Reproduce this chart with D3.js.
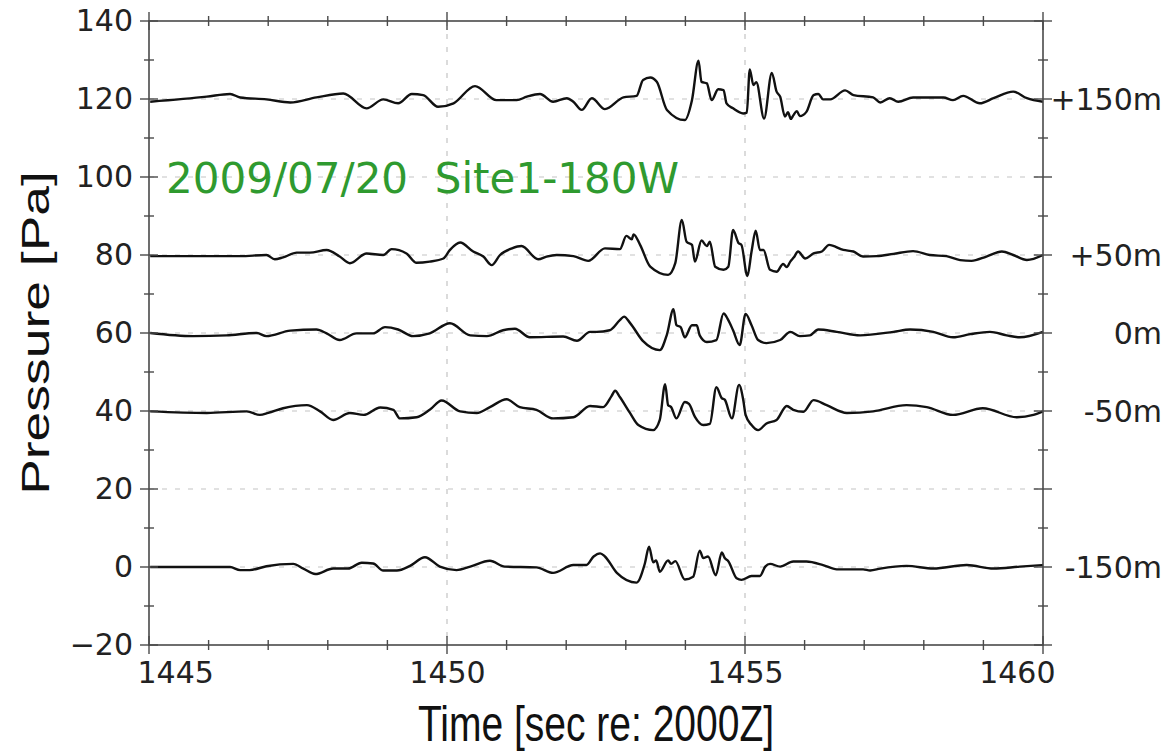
<!DOCTYPE html>
<html>
<head>
<meta charset="utf-8">
<script src="https://cdn.jsdelivr.net/npm/d3@7"></script>
<style>
  html, body { margin: 0; padding: 0; background: #fff; }
  svg { display: block; }
</style>
</head>
<body>
<svg id="chart" width="1170" height="754"></svg>
<script>
// Pressure traces at five heights, 2009/07/20 Site1-180W
const xDomain = [1445, 1460];
const yDomain = [-20, 140];
const xMajorTicks = [1445, 1450, 1455, 1460];
const yMajorTicks = [-20, 0, 20, 40, 60, 80, 100, 120, 140];
const heightLabels = ["+150m", "+50m", "0m", "-50m", "-150m"];
const labelLevels = [120, 80, 60, 40, 0];

const tP150 = [1445.02,1445.97,1446.36,1446.53,1446.97,1447.37,1447.81,1448.26,1448.65,1448.93,1449.18,1449.41,1449.60,1449.85,1450.11,1450.47,1450.83,1451.17,1451.34,1451.56,1451.78,1452.01,1452.12,1452.26,1452.43,1452.65,1452.96,1453.18,1453.29,1453.41,1453.52,1453.69,1453.99,1454.11,1454.22,1454.27,1454.36,1454.44,1454.55,1454.64,1454.69,1454.80,1454.97,1455.03,1455.08,1455.14,1455.19,1455.32,1455.45,1455.53,1455.59,1455.67,1455.72,1455.77,1455.81,1455.87,1455.92,1456.03,1456.15,1456.23,1456.31,1456.43,1456.68,1456.82,1457.15,1457.27,1457.43,1457.57,1457.82,1458.33,1458.49,1458.66,1458.94,1459.17,1459.50,1459.73,1460.0];
const pP150 = [119.3,120.6,121.3,120.4,119.9,119.1,120.4,121.4,117.6,119.9,118.9,121.3,121.0,118.0,118.9,123.3,119.7,119.7,120.6,121.3,119.3,120.2,119.3,117.2,120.2,117.4,120.4,120.8,124.9,125.5,124.4,117.2,114.6,119.7,129.8,124.4,124.0,119.7,122.5,122.3,118.9,117.6,116.3,116.5,127.6,123.6,124.3,115.0,126.7,121.9,120.6,115.5,116.6,114.9,115.8,116.9,115.6,116.7,121.0,121.3,119.9,119.9,122.2,121.0,120.4,119.1,120.2,119.3,120.4,120.4,119.7,120.8,118.9,120.2,121.9,120.2,119.3];

const tP50 = [1445.02,1446.53,1446.97,1447.11,1447.25,1447.48,1447.70,1447.98,1448.20,1448.37,1448.65,1448.93,1449.07,1449.32,1449.49,1449.71,1449.94,1450.05,1450.22,1450.44,1450.61,1450.75,1450.89,1451.09,1451.25,1451.53,1451.67,1451.84,1452.12,1452.37,1452.65,1452.90,1453.01,1453.10,1453.13,1453.24,1453.41,1453.71,1453.83,1453.94,1454.02,1454.11,1454.16,1454.27,1454.36,1454.41,1454.50,1454.64,1454.72,1454.80,1454.89,1454.94,1455.04,1455.11,1455.18,1455.25,1455.31,1455.42,1455.53,1455.64,1455.70,1455.76,1455.82,1455.89,1456.01,1456.15,1456.29,1456.41,1456.65,1456.82,1456.98,1457.21,1457.49,1457.82,1458.10,1458.38,1458.61,1458.80,1459.05,1459.31,1459.50,1459.73,1460.0];
const pP50 = [79.7,79.7,80.0,78.9,79.4,80.6,80.6,81.3,79.6,77.9,80.4,80.0,81.5,80.4,78.0,78.3,79.1,81.3,83.2,80.9,79.6,77.4,80.0,81.7,82.3,78.9,79.6,80.0,79.7,78.5,81.7,81.5,84.9,84.0,85.3,82.6,77.0,74.9,77.9,89.0,83.4,82.6,78.3,83.7,82.3,83.4,77.0,76.2,77.0,86.4,83.1,82.6,74.6,80.9,86.2,81.3,81.3,76.2,75.7,77.7,76.9,78.3,79.4,80.9,79.1,80.4,80.9,82.6,81.3,80.9,79.6,79.7,80.3,81.0,80.0,79.7,78.7,78.5,79.6,80.9,80.0,78.7,80.0];

const tP0 = [1445.02,1445.74,1446.30,1446.81,1446.97,1447.37,1447.81,1447.98,1448.20,1448.48,1448.76,1448.96,1449.18,1449.43,1449.71,1450.05,1450.39,1450.67,1450.94,1451.14,1451.39,1451.95,1452.18,1452.40,1452.51,1452.73,1452.90,1452.97,1453.07,1453.29,1453.57,1453.69,1453.80,1453.85,1453.92,1453.99,1454.11,1454.19,1454.24,1454.36,1454.52,1454.64,1454.72,1454.80,1454.91,1455.01,1455.11,1455.22,1455.36,1455.59,1455.76,1455.92,1456.09,1456.23,1456.54,1456.93,1457.49,1457.77,1458.16,1458.49,1458.78,1459.11,1459.39,1459.61,1460.0];
const pP0 = [60.0,59.2,59.4,60.0,59.2,60.6,60.9,59.9,58.2,59.9,59.9,61.5,60.9,59.2,59.9,62.5,59.4,59.2,60.7,61.1,58.9,59.1,58.0,60.3,60.3,60.7,63.3,64.2,62.6,57.9,55.6,59.6,66.1,62.0,61.5,58.9,62.0,62.0,59.4,57.7,58.2,65.0,63.3,60.7,56.9,64.9,62.0,58.2,57.4,58.2,60.3,59.2,59.4,60.9,60.3,59.4,60.3,60.9,60.3,58.9,59.7,60.3,59.4,58.9,60.3];

const tM50 = [1445.02,1445.97,1446.64,1446.86,1447.00,1447.25,1447.65,1447.87,1448.09,1448.37,1448.60,1448.88,1449.10,1449.21,1449.49,1449.71,1449.91,1450.22,1450.50,1450.72,1451.00,1451.22,1451.50,1451.78,1452.12,1452.40,1452.62,1452.76,1452.82,1452.90,1453.07,1453.21,1453.46,1453.57,1453.66,1453.71,1453.76,1453.85,1453.99,1454.06,1454.16,1454.30,1454.41,1454.52,1454.61,1454.66,1454.78,1454.90,1454.97,1455.01,1455.11,1455.22,1455.36,1455.53,1455.70,1455.81,1455.98,1456.15,1456.37,1456.71,1457.15,1457.71,1458.05,1458.49,1458.99,1459.56,1459.84,1460.0];
const pM50 = [39.9,39.5,39.9,39.0,39.5,40.7,41.5,39.9,37.7,39.5,39.0,40.9,40.3,38.1,38.4,40.3,42.7,39.9,39.5,41.0,43.0,41.0,40.3,38.1,38.4,41.3,41.0,43.8,45.2,43.6,39.5,36.4,35.1,37.7,46.9,41.5,41.0,38.1,42.3,41.8,38.5,36.4,36.7,46.1,43.3,42.9,38.1,46.7,42.9,39.0,36.4,35.1,36.8,37.7,41.3,40.3,39.8,42.8,41.5,39.5,39.9,41.5,41.0,39.0,40.7,38.4,39.0,39.9];

const tM150 = [1445.02,1446.36,1446.53,1446.69,1446.97,1447.42,1447.59,1447.79,1448.09,1448.34,1448.57,1448.76,1448.93,1449.16,1449.38,1449.63,1449.88,1450.16,1450.39,1450.72,1450.97,1451.50,1451.78,1452.12,1452.34,1452.46,1452.57,1452.65,1452.85,1453.18,1453.32,1453.39,1453.46,1453.51,1453.57,1453.71,1453.76,1453.83,1453.99,1454.13,1454.24,1454.30,1454.38,1454.51,1454.61,1454.66,1454.72,1454.86,1454.94,1455.11,1455.25,1455.34,1455.42,1455.59,1455.81,1456.03,1456.31,1456.54,1456.98,1457.10,1457.27,1457.71,1458.16,1458.72,1459.17,1459.61,1460.0];
const pM150 = [0.0,0.0,-0.8,-0.8,0.2,0.8,-0.4,-1.8,-0.4,-0.4,1.1,0.9,-0.9,-0.9,0.3,2.5,0.1,-0.8,0.1,1.6,0.1,-0.1,-1.5,0.5,0.5,2.7,3.5,2.7,-1.5,-4.0,0.9,5.2,1.2,1.7,-1.2,1.7,0.8,1.5,-3.2,-2.5,4.2,2.3,2.7,-2.1,3.7,2.3,1.5,-2.9,-3.3,-2.3,-2.3,0.1,0.8,0.1,1.4,1.4,0.5,-0.6,-0.6,-0.9,-0.4,0.3,-0.4,0.5,-0.4,0.1,0.5];

const traces = [
  [tP150, pP150], [tP50, pP50], [tP0, pP0], [tM50, pM50], [tM150, pM150]
];

const svg = d3.select("#chart");
const W = 1170, H = 754;
const margin = { left: 149, right: W - 1043, top: 21, bottom: H - 645 };

const x = d3.scaleLinear().domain(xDomain).range([margin.left, W - margin.right]);
const y = d3.scaleLinear().domain(yDomain).range([H - margin.bottom, margin.top]);

const frameColor = "#4a4a4a";
const tickFont = "'DejaVu Sans', Verdana, sans-serif";
const titleFont = "'Liberation Sans', Arial, sans-serif";
const titleStretch = 1.28;

// dashed grid at the major ticks
const grid = svg.append("g").attr("stroke", "#c4c4c4").attr("stroke-width", 1.2)
  .attr("stroke-dasharray", "5,8");
grid.append("g").selectAll("line").data(xMajorTicks.slice(1, -1)).join("line")
  .attr("x1", d => x(d)).attr("x2", d => x(d))
  .attr("y1", y(yDomain[1])).attr("y2", y(yDomain[0]));
grid.append("g").selectAll("line").data(yMajorTicks.slice(1, -1)).join("line")
  .attr("y1", d => y(d)).attr("y2", d => y(d))
  .attr("x1", x(xDomain[0])).attr("x2", x(xDomain[1]));

// traces
const line = d3.line().curve(d3.curveMonotoneX).x(d => x(d[0])).y(d => y(d[1]));
svg.append("g").selectAll("path").data(traces).join("path")
  .attr("d", ([ts, ps]) => line(ts.map((t, i) => [t, ps[i]])))
  .attr("fill", "none").attr("stroke", "#111").attr("stroke-width", 2.4)
  .attr("stroke-linejoin", "round");

// frame
svg.append("rect")
  .attr("x", x(xDomain[0])).attr("y", y(yDomain[1]))
  .attr("width", x(xDomain[1]) - x(xDomain[0]))
  .attr("height", y(yDomain[0]) - y(yDomain[1]))
  .attr("fill", "none").attr("stroke", frameColor).attr("stroke-width", 1.6);

// tick marks crossing the frame on all four sides
const xMinor = d3.range(1445, 1460.5, 1);
const yMinor = d3.range(-20, 140.5, 10);
const tickG = svg.append("g").attr("stroke", frameColor).attr("stroke-width", 1.4);
[y(yDomain[0]), y(yDomain[1])].forEach(py => {
  tickG.append("g").selectAll("line").data(xMinor).join("line")
    .attr("x1", d => x(d)).attr("x2", d => x(d))
    .attr("y1", d => py - (d % 5 === 0 ? 9 : 5))
    .attr("y2", d => py + (d % 5 === 0 ? 9 : 5));
});
[x(xDomain[0]), x(xDomain[1])].forEach(px => {
  tickG.append("g").selectAll("line").data(yMinor).join("line")
    .attr("y1", d => y(d)).attr("y2", d => y(d))
    .attr("x1", d => px - (d % 20 === 0 ? 9 : 5))
    .attr("x2", d => px + (d % 20 === 0 ? 9 : 5));
});

// tick labels through d3 axes
const yAxis = d3.axisLeft(y).tickValues(yMajorTicks).tickSize(0).tickPadding(16)
  .tickFormat(d => d < 0 ? "\u2212" + Math.abs(d) : String(d));
const gy = svg.append("g").attr("transform", `translate(${x(xDomain[0])},0)`).call(yAxis);
gy.select(".domain").remove();
gy.selectAll("text").attr("font-family", tickFont).attr("font-size", 30).attr("fill", "#222");

const xAxis = d3.axisBottom(x).tickValues(xMajorTicks).tickSize(0).tickPadding(17)
  .tickFormat(d3.format("d"));
const gx = svg.append("g").attr("transform", `translate(0,${y(yDomain[0])})`).call(xAxis);
gx.select(".domain").remove();
gx.selectAll("text").attr("font-family", tickFont).attr("font-size", 30).attr("fill", "#222")
  .attr("text-anchor", (d, i) => i === 0 ? "start" : (i === xMajorTicks.length - 1 ? "end" : "middle"))
  .attr("dx", (d, i) => i === 0 ? -12 : (i === xMajorTicks.length - 1 ? 12 : 0));

// height labels on the right
svg.append("g").selectAll("text").data(heightLabels).join("text")
  .attr("x", 1162)
  .attr("y", (d, i) => y(labelLevels[i]))
  .attr("dy", "0.35em")
  .attr("text-anchor", "end")
  .attr("font-family", tickFont).attr("font-size", 30).attr("fill", "#222")
  .text(d => d);

// axis titles
svg.append("text")
  .attr("transform", `translate(${(x(xDomain[0]) + x(xDomain[1])) / 2},741) scale(1,${titleStretch})`)
  .attr("text-anchor", "middle")
  .attr("font-family", titleFont).attr("font-size", 39).attr("fill", "#111")
  .text("Time [sec re: 2000Z]");

svg.append("text")
  .attr("transform", `translate(49,${(y(yDomain[0]) + y(yDomain[1])) / 2}) rotate(-90) scale(1.37,1)`)
  .attr("text-anchor", "middle")
  .attr("font-family", titleFont).attr("font-size", 39).attr("fill", "#111")
  .text("Pressure [Pa]");

// site/date annotation
svg.append("text")
  .attr("x", 166).attr("y", 193)
  .attr("xml:space", "preserve")
  .style("white-space", "pre")
  .attr("font-family", tickFont).attr("font-size", 42).attr("fill", "#2f9a2f")
  .text("2009/07/20  Site1-180W");
</script>
</body>
</html>
